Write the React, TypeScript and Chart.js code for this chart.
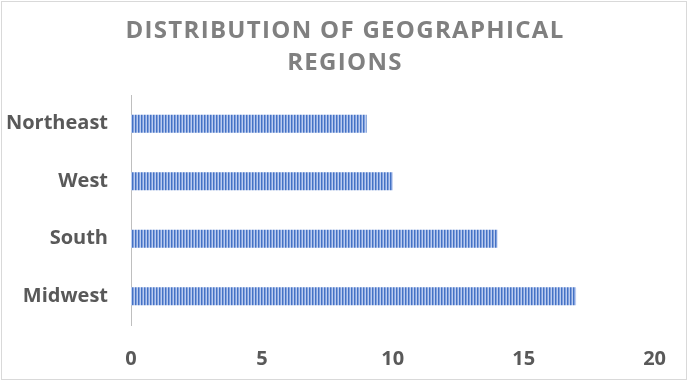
import React, { useEffect, useRef } from 'react';
import Chart from 'chart.js/auto';

const categories = ['Northeast', 'West', 'South', 'Midwest'];
const values = [9, 10, 14, 17];
const xMin = 0;
const xMax = 20;
const xStep = 5;
const titleLines = ['DISTRIBUTION OF GEOGRAPHICAL', 'REGIONS'];

function makePattern(ctx: CanvasRenderingContext2D) {
  const c = document.createElement('canvas');
  c.width = 3;
  c.height = 4;
  const p = c.getContext('2d')!;
  const cols = ['#4472c4', '#82a0dd', '#bccdef'];
  cols.forEach((col, i) => {
    p.fillStyle = col;
    p.fillRect(i, 0, 1, 4);
  });
  return ctx.createPattern(c, 'repeat');
}

const framePlugin = {
  id: 'frameAndTitle',
  beforeDraw(chart: any) {
    const ctx = chart.ctx as CanvasRenderingContext2D;
    ctx.save();
    ctx.fillStyle = '#ffffff';
    ctx.fillRect(0, 0, chart.width, chart.height);
    ctx.strokeStyle = '#d9d9d9';
    ctx.lineWidth = 1;
    ctx.strokeRect(1.5, 1.5, chart.width - 3, chart.height - 3);
    ctx.restore();
  },
  afterDraw(chart: any) {
    const ctx = chart.ctx as CanvasRenderingContext2D;
    ctx.save();
    ctx.fillStyle = '#808080';
    ctx.font = 'bold 24px "Open Sans"';
    (ctx as any).letterSpacing = '1.3px';
    ctx.textAlign = 'center';
    ctx.textBaseline = 'alphabetic';
    const baselines = [38, 70];
    titleLines.forEach((t, i) => ctx.fillText(t, chart.width / 2 + 1, baselines[i]));
    ctx.restore();
  },
};

export default function App() {
  const ref = useRef<HTMLCanvasElement>(null);
  useEffect(() => {
    const canvas = ref.current!;
    const ctx = canvas.getContext('2d')!;
    const pattern = makePattern(ctx);
    const labelFont = { family: '"Open Sans"', size: 20, weight: 'bold' as const };
    const chart = new Chart(canvas, {
      type: 'bar',
      data: {
        labels: categories,
        datasets: [
          {
            data: values,
            backgroundColor: pattern as any,
            borderWidth: 0,
            categoryPercentage: 1,
            barPercentage: 0.31,
          },
        ],
      },
      options: {
        indexAxis: 'y',
        responsive: false,
        animation: false,
        layout: { padding: { top: 95, right: 30, left: 0, bottom: 0 } },
        plugins: { legend: { display: false }, tooltip: { enabled: false }, title: { display: false } },
        scales: {
          x: {
            type: 'linear',
            min: xMin,
            max: xMax,
            ticks: { stepSize: xStep, font: labelFont, color: '#595959', padding: 22 },
            grid: { display: false, drawTicks: false },
            border: { display: false },
            afterFit: (s: any) => {
              s.height = 56;
            },
          },
          y: {
            type: 'category',
            ticks: { font: labelFont, color: '#595959', padding: 23 },
            grid: { display: false, drawTicks: false },
            border: { display: true, color: '#bfbfbf', width: 1 },
            afterFit: (s: any) => {
              s.width = 131;
            },
          },
        },
      },
      plugins: [framePlugin],
    });
    return () => chart.destroy();
  }, []);
  return (
    <div style={{ position: 'absolute', left: 0, top: 0, width: 688, height: 381 }}>
      <canvas ref={ref} width={688} height={381} style={{ display: 'block' }} />
    </div>
  );
}
